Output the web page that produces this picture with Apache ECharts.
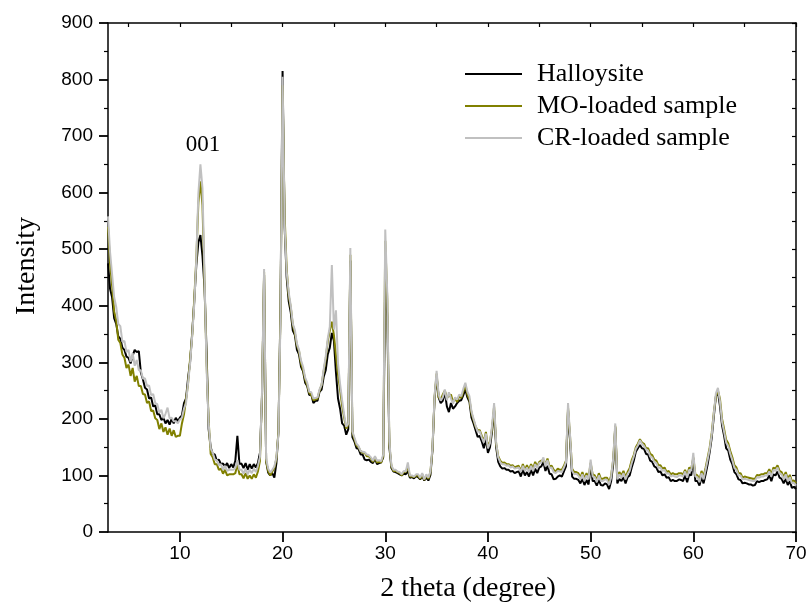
<!DOCTYPE html>
<html>
<head>
<meta charset="utf-8">
<script src="https://cdn.jsdelivr.net/npm/echarts@6/dist/echarts.min.js"></script>
<style>html,body{margin:0;padding:0;background:#fff}#c{width:810px;height:609px}</style>
</head>
<body>
<div id="c"></div>
<script>
// 2 theta sampling grid: 3.0 to 70.0 in 0.2 degree steps
const twoTheta = Array.from({length: 336}, (_, i) => +(3 + i * 0.2).toFixed(1));
const seriesNames = ['Halloysite', 'MO-loaded sample', 'CR-loaded sample'];
const xTickValues = [10, 20, 30, 40, 50, 60, 70];
const xMinorTickValues = [5, 10, 15, 20, 25, 30, 35, 40, 45, 50, 55, 60, 65, 70];

const halloysite = [
475,430,415,378,368, 346,342,326,322,310, 308,298,312,322,318, 320,282,270,255,252,
236,238,222,224,208, 208,198,202,192,198, 190,200,192,202,196, 202,206,228,236,272,
302,352,408,472,512, 525,488,432,318,182, 150,138,137,126,128, 120,121,116,122,113,
120,114,126,170,120, 121,113,122,110,120, 112,120,114,122,140, 240,455,125,105,100,
104,96,122,178,400, 815,540,450,408,388, 356,348,322,314,292, 284,264,258,242,243,
228,232,232,248,252, 274,286,314,326,352, 338,282,236,218,192, 188,172,182,480,168,
160,148,147,137,137, 128,127,128,124,122, 130,120,122,123,132, 450,380,150,113,107,
106,104,102,100,103, 102,108,96,97,95, 99,97,93,99,91, 96,91,101,145,235,
275,238,228,232,248, 222,212,228,218,222, 228,232,233,242,252, 238,230,202,192,180,
168,170,160,148,164, 140,150,178,215,150, 124,116,112,113,110, 110,107,108,104,106,
107,98,110,100,106, 98,110,100,112,104, 114,116,124,108,117, 103,102,93,94,98,
100,98,107,116,215, 160,98,94,94,92, 86,94,83,92,84, 118,90,90,82,92,
83,82,86,84,76, 90,120,185,86,94, 90,97,86,97,100, 114,126,142,148,154,
148,147,138,137,126, 124,116,114,106,107, 100,102,96,97,90, 92,90,90,93,92,
90,100,88,102,100, 130,90,90,82,97, 86,102,120,142,168, 205,240,248,222,188,
170,148,144,128,120, 106,102,93,92,86, 87,86,84,84,82, 83,90,88,90,90,
92,93,100,90,102, 100,107,96,94,86, 94,83,90,78,80, 76
];
const moLoaded = [
540,475,435,390,374, 340,334,314,308,290, 296,276,290,266,276, 258,258,244,243,228,
231,214,215,201,198, 182,192,177,185,172, 183,170,180,168,170, 170,192,208,234,263,
307,348,412,483,582, 620,578,442,298,197, 138,132,120,120,110, 112,103,110,100,102,
102,102,104,120,102, 102,95,104,94,100, 94,102,96,107,126, 245,460,125,108,100,
107,113,130,178,390, 790,560,465,418,397, 366,352,330,320,298, 287,270,260,246,242,
233,234,236,250,260, 284,306,337,356,372, 348,312,278,252,223, 202,183,190,490,176,
164,153,150,143,140, 140,134,134,130,124, 132,123,124,123,134, 515,410,155,116,108,
108,106,104,100,106, 106,116,98,98,97, 100,100,94,102,92, 100,94,106,148,238,
280,238,234,243,250, 238,240,243,230,236, 230,240,237,248,260, 243,234,210,198,186,
180,180,170,160,177, 150,160,183,222,156, 134,126,122,123,120, 120,117,118,114,116,
117,108,120,110,118, 110,120,112,124,116, 124,126,127,120,130, 116,117,110,107,112,
110,110,117,126,220, 168,112,106,106,104, 96,106,94,104,96, 122,102,100,92,104,
94,94,96,96,88, 100,128,188,96,106, 100,108,97,106,113, 127,136,150,156,164,
158,156,148,148,138, 136,128,126,118,118, 112,114,106,108,102, 104,102,102,104,104,
102,110,100,114,112, 132,102,100,92,108, 98,114,132,150,176, 212,240,250,235,200,
182,163,157,143,132, 118,114,104,104,96, 98,97,96,95,94, 94,101,100,102,102,
104,104,111,102,114, 112,118,108,106,97, 106,94,101,90,91, 86
];
const crLoaded = [
558,495,455,415,398, 368,364,336,338,318, 322,301,316,294,304, 286,286,271,272,258,
259,242,244,228,226, 211,216,201,209,220, 201,202,196,196,192, 199,202,218,228,264,
298,347,403,482,598, 650,608,452,288,192, 148,140,128,127,118, 120,110,117,108,110,
110,110,113,127,110, 110,103,112,102,110, 104,112,106,117,133, 250,465,130,112,105,
110,116,132,173,380, 805,545,460,423,400, 368,357,333,322,303, 292,273,264,248,247,
236,237,238,252,260, 287,310,342,363,472, 358,392,298,262,233, 207,186,192,502,178,
167,156,152,143,142, 141,137,136,132,126, 134,126,127,125,137, 535,420,160,118,110,
110,107,106,102,108, 107,123,100,100,98, 102,102,96,104,93, 102,96,107,150,240,
285,243,232,238,252, 233,247,236,227,238, 234,243,240,253,264, 248,240,213,200,188,
177,178,167,158,174, 148,157,188,228,158, 132,123,120,120,117, 118,114,116,112,113,
114,106,117,108,114, 106,117,108,120,113, 122,123,132,116,127, 113,114,106,104,108,
107,106,114,123,228, 170,108,102,103,100, 93,102,90,100,93, 128,98,97,88,100,
90,90,93,92,83, 97,130,192,93,102, 96,104,93,102,108, 122,133,147,153,162,
156,152,146,144,133, 132,123,122,113,114, 108,110,103,104,98, 100,98,97,100,100,
98,107,96,110,108, 140,98,97,88,104, 93,110,128,147,173, 210,245,255,230,195,
177,158,152,138,127, 113,110,100,100,93, 94,93,92,91,90, 90,97,96,98,98,
100,100,107,98,110, 108,114,103,102,93, 102,90,97,86,87, 82
];

const pairs = arr => twoTheta.map((x, i) => [x, arr[i]]);
const tickFont = '"Liberation Sans", Arial, sans-serif';
const serif = '"Liberation Serif", "Times New Roman", serif';

const chart = echarts.init(document.getElementById('c'), null, {renderer: 'canvas'});
chart.setOption({
  animation: false,
  backgroundColor: '#fff',
  grid: {left: 108, right: 14, top: 23, bottom: 77, containLabel: false},
  xAxis: [{
    type: 'value', min: 3, max: 70, position: 'bottom',
    axisLine: {show: true, onZero: false, lineStyle: {color: '#000', width: 1.5}},
    axisTick: {show: true, inside: false, length: 10, customValues: xTickValues, lineStyle: {color: '#000', width: 1.8}},
    axisLabel: {show: true, margin: 12, customValues: xTickValues, color: '#000', fontSize: 19, fontFamily: tickFont},
    splitLine: {show: false}
  }, {
    type: 'value', min: 3, max: 70, position: 'top',
    axisLine: {show: true, onZero: false, lineStyle: {color: '#000', width: 1.5}},
    axisTick: {show: true, inside: true, length: 4, customValues: xMinorTickValues, lineStyle: {color: '#000', width: 1.2}},
    axisLabel: {show: false},
    splitLine: {show: false}
  }],
  yAxis: [{
    type: 'value', min: 0, max: 900, interval: 100, position: 'left',
    axisLine: {show: true, onZero: false, lineStyle: {color: '#000', width: 1.5}},
    axisTick: {show: true, inside: false, length: 9, lineStyle: {color: '#000', width: 1.8}},
    minorTick: {show: true, splitNumber: 2, length: 4, lineStyle: {color: '#000', width: 1.2}},
    axisLabel: {show: true, margin: 15, color: '#000', fontSize: 19, fontFamily: tickFont},
    splitLine: {show: false}
  }, {
    type: 'value', min: 0, max: 900, interval: 50, position: 'right',
    axisLine: {show: true, onZero: false, lineStyle: {color: '#000', width: 1.5}},
    axisTick: {show: true, inside: true, length: 4, lineStyle: {color: '#000', width: 1.2}},
    axisLabel: {show: false},
    splitLine: {show: false}
  }],
  legend: {
    orient: 'vertical', left: 460, top: 56,
    icon: 'rect', itemWidth: 57, itemHeight: 2, itemGap: 6,
    data: seriesNames,
    textStyle: {fontFamily: serif, fontSize: 26, lineHeight: 26, color: '#000', padding: [0, 0, 0, 10]}
  },
  series: [
    {name: seriesNames[0], type: 'line', data: pairs(halloysite), symbol: 'none',
     lineStyle: {color: '#000000', width: 2}, itemStyle: {color: '#000000'}, z: 2},
    {name: seriesNames[1], type: 'line', data: pairs(moLoaded), symbol: 'none',
     lineStyle: {color: '#808000', width: 2}, itemStyle: {color: '#808000'}, z: 3},
    {name: seriesNames[2], type: 'line', data: pairs(crLoaded), symbol: 'none',
     lineStyle: {color: '#c0c0c0', width: 2}, itemStyle: {color: '#c0c0c0'}, z: 4}
  ],
  graphic: [
    {type: 'text', x: 468, y: 589, style: {text: '2 theta (degree)', font: '28px ' + serif, fill: '#000', textAlign: 'center', textVerticalAlign: 'middle'}},
    {type: 'text', x: 27, y: 266, rotation: Math.PI / 2, style: {text: 'Intensity', font: '28px ' + serif, fill: '#000', textAlign: 'center', textVerticalAlign: 'middle'}},
    {type: 'text', x: 203, y: 145, style: {text: '001', font: '23px ' + serif, fill: '#000', textAlign: 'center', textVerticalAlign: 'middle'}}
  ]
});
</script>
</body>
</html>
